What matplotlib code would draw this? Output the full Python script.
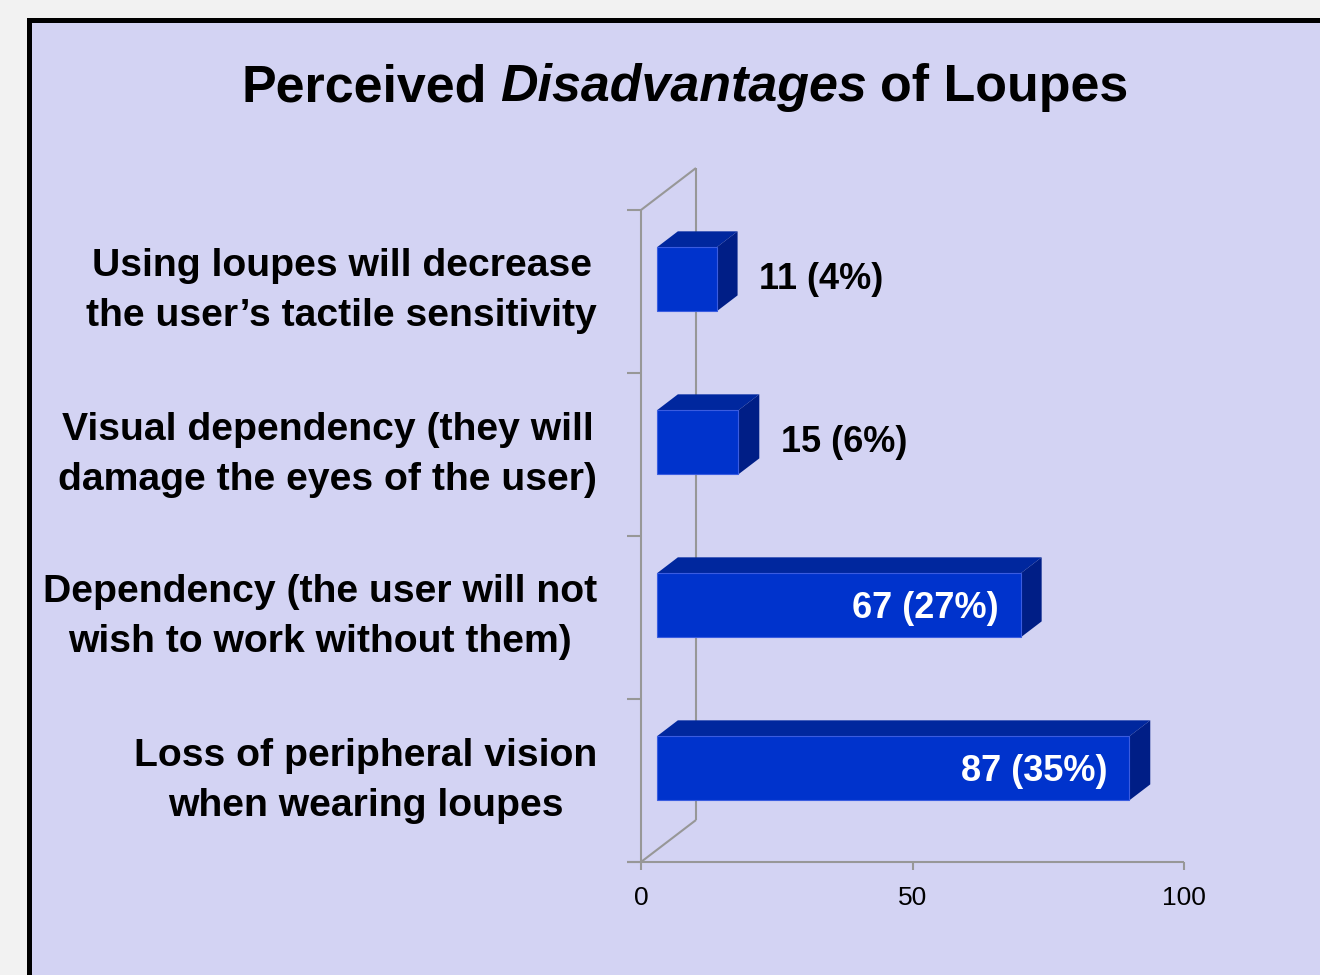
import numpy as np
import matplotlib
matplotlib.use('Agg')
import matplotlib.pyplot as plt
from matplotlib import patches, font_manager

#===Data===#
categories = ["Using loupes will decrease\nthe user\u2019s tactile sensitivity",
              "Visual dependency (they will\ndamage the eyes of the user)",
              "Dependency (the user will not\nwish to work without them)",
              "Loss of peripheral vision\nwhen wearing loupes"]
counts = [11, 15, 67, 87]
percents = [4, 6, 27, 35]
x_ticks = [0, 50, 100]

#===Fonts===#
names = {f.name for f in font_manager.fontManager.ttflist}
if 'Liberation Sans Narrow' in names:
	narrow = 'Liberation Sans Narrow'
	shrink = 1.0
else:
	narrow = 'Liberation Sans'
	shrink = 0.82
plain = 'Liberation Sans'

W, H = 1320, 975
fig = plt.figure(figsize=(W / 100, H / 100), dpi=100, facecolor='#F2F2F2')

#===Slide frame===#
frame = patches.Rectangle((28.5 / W, -0.1), 2.0, 1.1 - 19.5 / H, transform=fig.transFigure,
                          facecolor='#D3D3F3', edgecolor='black', linewidth=3.6, zorder=-5)
fig.patches.append(frame)

#===Axes (front plane of the 3D box)===#
ax = fig.add_axes([641 / W, 1 - 862 / H, 543 / W, 652 / H])
ax.set_xlim(0, 100)
ax.set_ylim(0, len(categories))
ax.axis('off')
ax.set_zorder(2)

DX = 55 / 5.43     # depth offset in x units
DY = 42 / 163.0    # depth offset in category units
F = 0.29           # bar front position inside depth
D = 0.38           # bar depth
BH = 0.393         # bar height
grey = '#979797'
n = len(categories)

def line(xs, ys):
	ax.plot(xs, ys, color=grey, linewidth=1.5, clip_on=False, zorder=1, solid_capstyle='butt')

line([0, 0], [0, n])
line([0, DX], [n, n + DY])
line([DX, DX], [DY, n + DY])
line([0, DX], [0, DY])
line([-2.6, 100], [0, 0])
for k in range(n + 1):
	line([-2.6, 0], [k, k])
for t in x_ticks:
	line([t, t], [0, -0.05])
	ax.text(t, -0.22, str(t), ha='center', va='center', fontsize=19, family=plain)

#===Bars===#
front_c, top_c, side_c = '#0033CC', '#00279E', '#001E86'
for i, (lab, v, p) in enumerate(zip(categories, counts, percents)):
	c = n - 0.5 - i
	x0 = F * DX
	y0 = c + F * DY - BH / 2
	dx, dy = D * DX, D * DY
	ax.fill([x0, x0 + v, x0 + v + dx, x0 + dx], [y0 + BH, y0 + BH, y0 + BH + dy, y0 + BH + dy],
	        color=top_c, linewidth=0, clip_on=False, zorder=3)
	ax.fill([x0 + v, x0 + v + dx, x0 + v + dx, x0 + v], [y0, y0 + dy, y0 + BH + dy, y0 + BH],
	        color=side_c, linewidth=0, clip_on=False, zorder=3)
	ax.add_patch(patches.Rectangle((x0, y0), v, BH, facecolor=front_c, edgecolor='#3A5CE0',
	                               linewidth=0.8, clip_on=False, zorder=4))

	txt = "%d (%d%%)" % (v, p)
	if v > 50:
		ax.text(x0 + v - 4, c + F * DY - 0.02, txt, ha='right', va='center', color='white',
		        fontsize=26, fontweight='bold', family=plain, zorder=5)
	else:
		ax.text(x0 + v + dx + 4, c + F * DY, txt, ha='left', va='center', color='black',
		        fontsize=26, fontweight='bold', family=plain, zorder=5)

	ax.text(-8.1, c, lab, ha='right', va='center', multialignment='center', linespacing=1.5,
	        fontsize=34.4 * shrink, fontweight='bold', family=narrow)

#===Title with italic word===#
renderer = fig.canvas.get_renderer()
pieces = [("Perceived", 'normal'), ("Disadvantages", 'italic'), ("of Loupes", 'normal')]
tsize = 45.7 * shrink
objs = []
for s, st in pieces:
	objs.append(fig.text(0, 1 - 101 / H, s, fontsize=tsize, fontweight='bold', style=st,
	                     family=narrow, ha='left', va='baseline'))
probe1 = fig.text(0, 0, "P P", fontsize=tsize, fontweight='bold', family=narrow)
probe2 = fig.text(0, 0, "PP", fontsize=tsize, fontweight='bold', family=narrow)
gap = probe1.get_window_extent(renderer).width - probe2.get_window_extent(renderer).width
probe1.remove()
probe2.remove()
widths = [o.get_window_extent(renderer).width for o in objs]
total = sum(widths) + gap * (len(objs) - 1)
x = 685 - total / 2
for o, w in zip(objs, widths):
	o.set_x(x / W)
	x += w + gap

plt.savefig("out.png", dpi=100, facecolor=fig.get_facecolor())
